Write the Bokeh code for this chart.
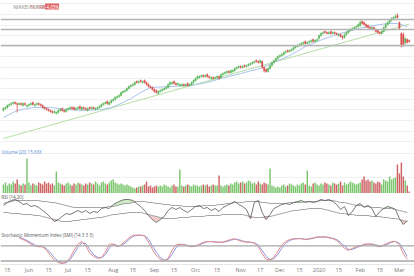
import numpy as np
from bokeh.plotting import figure
from bokeh.layouts import column
from bokeh.models import Range1d, FixedTicker, Label, Span, ColumnDataSource
from bokeh.embed import file_html
from bokeh.resources import INLINE

# ---------------- data ----------------
N = 208
idx = list(range(N))

open_ = [10515,10535,10545,10565,10575,10585,10595,10585,10575,10585,
         10565,10585,10555,10565,10575,10595,10565,10575,10585,10575,
         10565,10545,10535,10525,10515,10505,10495,10485,10495,10515,
         10535,10515,10505,10525,10535,10545,10545,10525,10535,10555,
         10525,10545,10535,10515,10545,10535,10545,10525,10535,10545,
         10555,10575,10585,10605,10575,10595,10615,10625,10645,10655,
         10665,10695,10705,10715,10735,10755,10765,10775,10805,10795,
         10815,10795,10815,10795,10775,10755,10745,10725,10715,10685,
         10705,10715,10725,10735,10745,10775,10785,10805,10785,10775,
         10765,10765,10775,10765,10785,10765,10775,10795,10815,10835,
         10845,10855,10865,10855,10875,10855,10835,10845,10835,10845,
         10855,10845,10875,10885,10895,10905,10895,10905,10915,10935,
         10945,10955,10945,10965,10955,10965,10975,10985,10995,11015,
         11005,10995,11005,10945,10925,10905,10935,10965,10995,11015,
         11035,11055,11065,11075,11095,11115,11105,11115,11125,11145,
         11155,11165,11175,11185,11205,11185,11195,11205,11225,11205,
         11215,11235,11265,11285,11305,11295,11285,11305,11285,11295,
         11285,11265,11275,11255,11245,11275,11295,11315,11325,11335,
         11345,11355,11365,11405,11395,11375,11365,11345,11335,11345,
         11325,11315,11295,11285,11305,11345,11375,11395,11415,11435,
         11445,11465,11395,11285,11275,11195,11225,11215]
high = [10545,10555,10575,10585,10595,10605,10605,10595,10595,10595,
        10595,10595,10575,10585,10595,10605,10585,10595,10595,10585,
        10575,10555,10545,10535,10525,10515,10515,10505,10525,10535,
        10545,10525,10535,10545,10555,10555,10555,10545,10555,10565,
        10555,10555,10545,10545,10555,10555,10555,10545,10555,10565,
        10585,10595,10605,10615,10605,10625,10635,10655,10665,10675,
        10705,10715,10725,10745,10765,10775,10785,10805,10815,10815,
        10825,10815,10825,10805,10785,10765,10755,10735,10725,10715,
        10725,10735,10745,10755,10785,10805,10805,10815,10795,10795,
        10785,10785,10785,10785,10795,10785,10805,10825,10845,10865,
        10865,10875,10875,10875,10885,10865,10855,10855,10855,10865,
        10865,10885,10895,10905,10915,10915,10925,10925,10945,10955,
        10965,10965,10965,10975,10975,10985,10995,11005,11015,11025,
        11015,11025,11015,10955,10935,10945,10975,11005,11025,11045,
        11065,11075,11085,11105,11115,11125,11125,11135,11155,11165,
        11175,11185,11195,11205,11215,11205,11215,11225,11235,11225,
        11235,11275,11295,11305,11315,11305,11305,11315,11305,11305,
        11295,11285,11285,11265,11285,11305,11325,11335,11345,11355,
        11365,11385,11415,11415,11405,11385,11375,11355,11355,11355,
        11335,11325,11305,11315,11355,11385,11405,11425,11445,11455,
        11475,11485,11405,11295,11295,11245,11235,11225]
low = [10505,10525,10535,10555,10565,10575,10575,10495,10565,10565,
       10555,10565,10545,10555,10565,10565,10555,10565,10565,10555,
       10535,10525,10515,10505,10495,10485,10485,10475,10485,10505,
       10505,10495,10495,10515,10525,10525,10515,10515,10525,10525,
       10515,10525,10515,10505,10525,10525,10525,10515,10525,10535,
       10545,10565,10575,10575,10565,10585,10605,10615,10635,10645,
       10655,10685,10695,10705,10725,10745,10755,10765,10785,10785,
       10795,10785,10785,10765,10745,10735,10715,10695,10685,10675,
       10695,10705,10715,10725,10735,10765,10775,10775,10765,10765,
       10755,10755,10755,10755,10755,10755,10765,10785,10805,10825,
       10835,10845,10845,10845,10845,10835,10825,10825,10825,10835,
       10825,10835,10865,10875,10885,10885,10885,10895,10905,10925,
       10935,10935,10935,10945,10945,10955,10965,10975,10985,10995,
       10985,10985,10935,10895,10895,10895,10925,10955,10985,11005,
       11025,11045,11055,11065,11085,11095,11095,11105,11115,11135,
       11145,11155,11165,11175,11175,11175,11185,11195,11195,11195,
       11205,11225,11255,11275,11285,11275,11275,11275,11275,11275,
       11265,11255,11245,11225,11235,11265,11285,11305,11315,11325,
       11335,11345,11355,11375,11365,11345,11335,11325,11325,11315,
       11295,11285,11275,11275,11295,11335,11365,11385,11405,11425,
       11435,11435,11325,11145,11155,11175,11185,11195]
close = [10535,10545,10565,10575,10585,10595,10585,10575,10585,10575,
         10585,10575,10565,10575,10585,10575,10575,10585,10575,10565,
         10545,10535,10525,10515,10505,10495,10505,10495,10515,10525,
         10515,10505,10525,10535,10545,10535,10525,10535,10545,10535,
         10545,10535,10525,10535,10535,10545,10535,10535,10545,10555,
         10575,10585,10595,10585,10595,10615,10625,10645,10655,10665,
         10695,10705,10715,10735,10755,10765,10775,10795,10795,10805,
         10805,10805,10795,10775,10755,10745,10725,10705,10695,10705,
         10715,10725,10735,10745,10775,10795,10795,10785,10775,10785,
         10775,10775,10765,10775,10765,10775,10795,10815,10835,10855,
         10855,10865,10855,10865,10855,10845,10845,10835,10845,10855,
         10835,10875,10885,10895,10905,10895,10915,10915,10935,10945,
         10955,10945,10955,10955,10965,10975,10985,10995,11005,11005,
         10995,11015,10945,10915,10905,10935,10965,10995,11015,11035,
         11055,11065,11075,11095,11105,11105,11115,11125,11145,11155,
         11165,11175,11185,11195,11185,11195,11205,11215,11205,11215,
         11225,11265,11285,11295,11295,11285,11295,11285,11295,11285,
         11275,11275,11255,11245,11275,11295,11315,11325,11335,11345,
         11355,11375,11395,11385,11375,11355,11345,11335,11345,11325,
         11305,11295,11285,11305,11345,11375,11395,11415,11435,11445,
         11455,11445,11335,11165,11175,11235,11195,11205]
volume = [9,11,8,10,9,12,10,14,9,8,
          10,9,35,11,8,10,9,8,11,10,
          9,12,10,11,9,10,8,22,11,10,
          9,8,10,11,9,8,10,9,11,10,
          9,8,10,9,11,10,9,12,10,8,
          11,12,10,9,11,13,14,11,10,9,
          10,9,8,9,8,7,6,5,6,7,
          7,8,9,12,7,8,6,7,8,7,
          8,7,9,8,7,6,8,9,7,7,
          24,8,7,8,9,8,7,9,8,8,
          7,8,9,8,9,7,8,9,8,8,
          18,8,7,8,9,8,10,9,11,12,
          10,11,12,10,11,13,12,10,11,9,
          12,10,9,11,10,9,25,8,7,6,
          7,6,8,9,7,8,10,9,8,7,
          9,8,10,11,9,23,8,7,10,11,
          9,8,10,9,11,10,9,8,11,10,
          9,10,12,8,11,9,10,12,11,10,
          9,10,11,14,17,13,14,12,13,11,
          10,12,11,9,14,13,12,17,14,15,
          16,29,20,31,17,13,8,2]

ma_idx = [0,7,15,24,33,41,50,55,60,65,70,75,85,95,104,111,121,131,138,146,155,164,172,181,189,196,201,206]
ma_val = [10445,10515,10545,10545,10525,10515,10525,10545,10585,10635,10695,10745,10755,10765,10795,10835,
          10885,10935,10995,11065,11165,11235,11285,11335,11365,11385,11385,11355]
trend_idx = [0, 207]
trend_val = [10235, 11380]
levels = [11425, 11325, 11165]
main_grid = [10203,10309,10415,10521,10627,10733,10839,10945,11051,11157,11263,11369,11475,11581]

osc_idx = list(range(0, 208, 2))
osc = [80,110,130,140,120,90,100,70,80,60, 30,0,-40,-80,-60,-30,0,-10,10,30,
       10,30,0,20,10,50,60,50,90,110, 130,140,140,130,100,70,30,-20,-60,-90,
       -60,-30,30,60,40,60,30,10,40,70, 80,50,60,30,50,20,60,80,100,120,
       90,70,40,-50,110,130,10,-60,-10,50, 70,90,100,90,110,120,130,110,120,110,
       120,140,130,140,120,90,40,70,-20,20, 80,100,60,80,50,-30,20,50,70,60,
       40,-50,-110,-70]
osc_up = [100,110,120,130,130,130,130,130,130,130, 120,120,110,110,100,90,80,70,60,60,
          60,60,60,60,60,60,60,70,70,80, 90,100,100,110,120,120,120,110,110,100,
          100,90,90,80,80,80,70,70,70,70, 70,80,80,80,80,90,90,100,100,110,
          110,110,120,120,120,120,110,110,100,100, 100,100,100,110,110,110,110,120,120,120,
          120,130,130,130,130,120,110,110,100,90, 80,80,70,70,60,60,60,50,50,50,
          40,30,20,10]
osc_lo = [10,10,0,0,0,-10,-10,-10,-20,-20, -30,-40,-50,-60,-70,-80,-80,-80,-70,-70,
          -60,-60,-50,-50,-40,-40,-30,-20,-10,-10, 0,0,10,10,10,10,0,-10,-20,-30,
          -40,-50,-50,-50,-50,-40,-40,-40,-30,-30, -30,-30,-20,-20,-20,-20,-10,-10,-10,-10,
          -10,-10,-20,-30,-40,-40,-40,-30,-30,-20, -10,0,10,20,30,30,40,40,50,50,
          50,50,40,30,20,10,0,0,-10,-10, -20,-20,-20,-20,-30,-30,-30,-40,-40,-50,
          -50,-60,-70,-80]

smi_idx = list(range(8, 208, 2))
smi = [82,73,63,49,40,35,35,16,-12,-35, -49,-54,-45,-21,16,49,63,40,2,-16,
       -26,-21,7,49,49,35,45,63,82,96, 96,96,92,59,21,-12,-31,-40,-26,16,
       45,49,45,40,35,40,49,59,63,63, 59,59,59,68,73,78,68,63,59,59,
       54,35,-2,-31,-35,-21,12,45,63,73, 78,78,78,73,78,82,87,87,87,82,
       78,68,49,26,16,26,35,40,49,49, 49,40,35,45,54,63,63,45,-2,-31]
smi_sig = [85,78,68,56,44,38,35,25,2,-22, -42,-51,-50,-33,-2,32,56,52,21,-7,
           -21,-24,-7,28,49,42,40,54,73,89, 96,96,94,75,40,5,-21,-36,-33,-5,
           30,47,47,42,38,38,45,54,61,63, 61,59,59,63,70,75,73,66,61,59,
           56,45,16,-16,-33,-28,-5,28,54,68, 75,78,78,75,75,80,85,87,87,85,
           80,73,59,38,21,21,30,38,45,49, 49,45,38,40,49,59,63,54,21,-16]
smi_levels = [40, -40]

tick_pos = [2,13,23,33,43,56,66,77,87,98,109,121,131,141,151,161,171,182,192,202]
tick_lab = ["15","Jun","15","Jul","15","Aug","15","Sep","15","Oct","15","Nov","17","Dec","15","2020","15","Feb","15","Mar"]

# ---------------- styling ----------------
UP = "#5cb85c"
DN = "#d9534f"
VUP = "#7cc66f"
VDN = "#cf6467"
FONT = "Open Sans"

xr = Range1d(-1.5, 209.7)

def mk(h, yr):
    p = figure(width=414, height=h, x_range=xr, y_range=yr, toolbar_location=None,
               output_backend="svg", min_border=0)
    p.xaxis.visible = False
    p.yaxis.visible = False
    p.xgrid.visible = False
    p.ygrid.visible = False
    p.outline_line_color = None
    p.background_fill_color = "white"
    p.border_fill_color = "white"
    return p

up = [c >= o for o, c in zip(open_, close)]
ccol = [UP if u else DN for u in up]
vcol = [VUP if u else VDN for u in up]

# main price panel
p1 = mk(146, Range1d(10155, 11615))
p1.ygrid.visible = True
p1.ygrid.ticker = FixedTicker(ticks=main_grid)
p1.ygrid.grid_line_color = "#f0f0f0"
for lv in levels:
    p1.add_layout(Span(location=lv, dimension="width", line_color="#b4b4b4", line_width=1.6))
p1.line(trend_idx, trend_val, line_color="#b5dfa8", line_width=1)
p1.line(ma_idx, ma_val, line_color="#a9c4ec", line_width=1)
src = ColumnDataSource(dict(x=idx, o=open_, h=high, l=low, c=close, col=ccol))
p1.segment(x0="x", y0="h", x1="x", y1="l", color="col", line_width=0.8, source=src)
p1.vbar(x="x", top="o", bottom="c", width=0.75, fill_color="col", line_color="col", line_width=0.3, source=src)

p1.add_layout(Label(x=5.0, y=11555, text="NIKKEI/NIKKEI", text_font=FONT, text_font_size="5px",
                    text_color="#8a8a8a", text_baseline="middle"))
p1.add_layout(Label(x=13.3, y=11555, text="11,194.55", text_font=FONT, text_font_size="5px",
                    text_color="#e06262", text_baseline="middle"))
p1.add_layout(Label(x=21.2, y=11555, text="-4.05%", text_font=FONT, text_font_size="4.5px",
                    text_color="white", text_baseline="middle", background_fill_color="#e06262"))

# volume panel
p2 = mk(47, Range1d(0, 47))
p2.ygrid.visible = True
p2.ygrid.ticker = FixedTicker(ticks=[16, 40])
p2.ygrid.grid_line_color = "#f0f0f0"
p2.vbar(x=idx, top=volume, bottom=0, width=0.75, fill_color=vcol, line_color=None)
p2.add_layout(Label(x=-1.0, y=42, text="Volume (20) 15.XXX", text_font=FONT,
                    text_font_size="4.5px", text_color="#5b8fd6", text_baseline="middle"))

# oscillator panel
p3 = mk(39, Range1d(-190, 200))
o_arr = np.array(osc); u_arr = np.array(osc_up); l_arr = np.array(osc_lo)
p3.varea(x=osc_idx, y1=u_arr, y2=np.maximum(o_arr, u_arr), fill_color="#cfeac6")
p3.varea(x=osc_idx, y1=l_arr, y2=np.minimum(o_arr, l_arr), fill_color="#f3cccc")
p3.line(osc_idx, osc_up, line_color="#8c8c8c", line_width=0.8)
p3.line(osc_idx, osc_lo, line_color="#8c8c8c", line_width=0.8)
p3.line(osc_idx, osc, line_color="#555555", line_width=0.8)
p3.add_layout(Label(x=-1.0, y=170, text="RSI (14,20)", text_font=FONT, text_font_size="4.5px",
                    text_color="#555555", text_baseline="middle"))

# SMI panel with x axis
p4 = mk(44, Range1d(-58.8, 110.5))
for lv in smi_levels:
    p4.add_layout(Span(location=lv, dimension="width", line_color="#a8a8a8", line_width=1.4))
p4.line(smi_idx, smi_sig, line_color="#8a96d8", line_width=1)
p4.line(smi_idx, smi, line_color="#e58a8a", line_width=1)
p4.add_layout(Label(x=-1.0, y=97, text="Stochastic Momentum Index (SMI) (14 3 3 3)", text_font=FONT,
                    text_font_size="4.5px", text_color="#555555", text_baseline="middle"))
p4.xaxis.visible = True
p4.xaxis.ticker = FixedTicker(ticks=tick_pos)
p4.xaxis.major_label_overrides = dict(zip(tick_pos, tick_lab))
p4.xaxis.major_tick_line_color = None
p4.xaxis.minor_tick_line_color = None
p4.xaxis.major_tick_out = 0
p4.xaxis.major_tick_in = 0
p4.xaxis.axis_line_color = "#e6e6e6"
p4.xaxis.major_label_standoff = 1
p4.xaxis.major_label_text_font = FONT
p4.xaxis.major_label_text_font_size = "5.5px"
p4.xaxis.major_label_text_color = "#777777"

layout = column(p1, p2, p3, p4, spacing=0)
open("out.html", "w").write(file_html(layout, INLINE))
